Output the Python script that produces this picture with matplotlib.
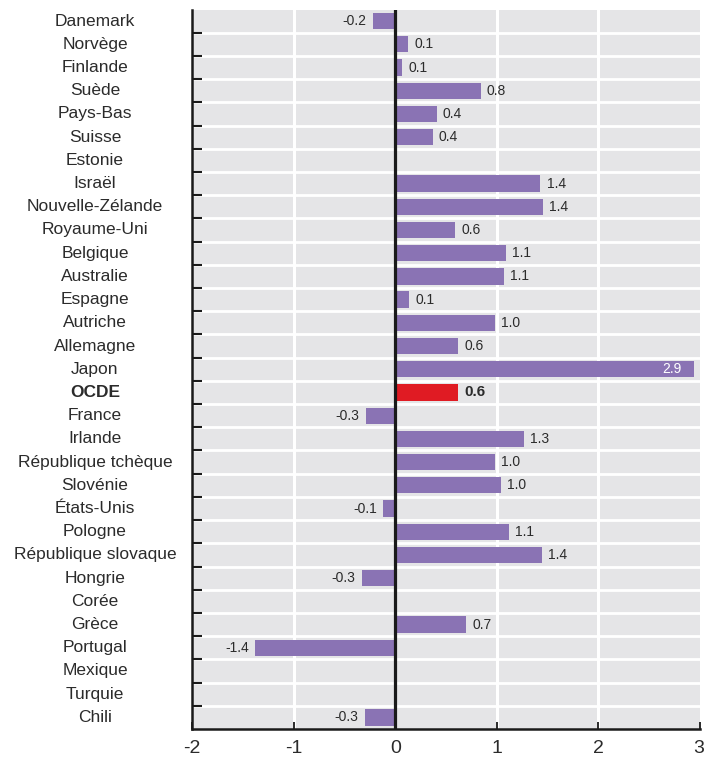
import numpy as np
import matplotlib
matplotlib.use("Agg")
import matplotlib.pyplot as plt
from matplotlib.transforms import blended_transform_factory, offset_copy

plt.rcParams['font.family'] = ['Liberation Sans', 'DejaVu Sans']

countries = [
    "Danemark", "Norvège", "Finlande", "Suède", "Pays-Bas", "Suisse", "Estonie",
    "Israël", "Nouvelle-Zélande", "Royaume-Uni", "Belgique", "Australie", "Espagne",
    "Autriche", "Allemagne", "Japon", "OCDE", "France", "Irlande",
    "République tchèque", "Slovénie", "États-Unis", "Pologne",
    "République slovaque", "Hongrie", "Corée", "Grèce", "Portugal", "Mexique",
    "Turquie", "Chili",
]
values = [
    -0.22, 0.13, 0.07, 0.84, 0.41, 0.37, np.nan,
    1.43, 1.45, 0.59, 1.09, 1.07, 0.14,
    0.98, 0.62, 2.94, 0.62, -0.29, 1.27,
    0.98, 1.04, -0.12, 1.12,
    1.44, -0.33, np.nan, 0.70, -1.38, np.nan,
    np.nan, -0.30,
]
highlight = "OCDE"

purple = "#8a73b4"
red = "#e01b23"
text_col = "#2b2b2b"

fig = plt.figure(figsize=(7.04, 7.63), dpi=100)
ax = fig.add_axes([192 / 704, 34 / 763, 508 / 704, (729 - 9.5) / 763])
ax.set_facecolor("#e5e5e7")

n = len(countries)
y = np.arange(n)
vals = np.array(values, dtype=float)
colors = [red if c == highlight else purple for c in countries]
plot_vals = np.nan_to_num(vals, nan=0.0)
ax.barh(y, plot_vals, height=0.7, color=colors, zorder=3)

ax.set_xlim(-2, 3)
ax.set_ylim(n - 0.5, -0.5)

# white row separators and vertical grid
for b in np.arange(0.5, n - 0.5, 1.0):
    ax.axhline(b, color="white", lw=2.0, zorder=1)
for gx in [-1, 1, 2]:
    ax.axvline(gx, color="white", lw=2.2, zorder=1)
ax.axvline(0, color="#1a1a1a", lw=2.3, zorder=4)

# value labels
for yi, v, c in zip(y, vals, countries):
    if np.isnan(v):
        continue
    lab = f"{v:.1f}"
    bold = (c == highlight)
    fw = "bold" if bold else "normal"
    fs = 11 if bold else 10
    if v >= 2.5:
        ax.text(v - 0.12, yi, lab, ha="right", va="center", color="white",
                fontsize=fs, fontweight=fw, zorder=5)
    elif v >= 0:
        ax.text(v + 0.06, yi, lab, ha="left", va="center", color=text_col,
                fontsize=fs, fontweight=fw, zorder=5)
    else:
        ax.text(v - 0.06, yi, lab, ha="right", va="center", color=text_col,
                fontsize=fs, fontweight=fw, zorder=5)

# y labels centred in the left margin
ax.set_yticks(y)
ax.set_yticklabels([])
trans = blended_transform_factory(fig.transFigure, ax.transData)
for yi, c in zip(y, countries):
    fig.text(95 / 704, yi, c, transform=trans, ha="center", va="center",
             fontsize=12.5, color=text_col,
             fontweight="bold" if c == highlight else "normal")
ax.tick_params(axis="y", which="major", length=0)
ax.set_yticks(np.arange(0.5, n - 0.5, 1.0), minor=True)
ax.tick_params(axis="y", which="minor", direction="in", length=7, width=1.5,
               color="#1a1a1a")

xticks = [-2, -1, 0, 1, 2, 3]
ax.set_xticks(xticks)
ax.set_xticklabels([str(t) for t in xticks])
ax.tick_params(axis="x", direction="in", length=5, width=1.3, color="#1a1a1a",
               labelsize=14, labelcolor=text_col, pad=8)
last = ax.get_xticklabels()[-1]
last.set_horizontalalignment("right")
last.set_transform(offset_copy(last.get_transform(), fig=fig, x=4, units="dots"))

for s in ["top", "right"]:
    ax.spines[s].set_visible(False)
ax.spines["left"].set_linewidth(1.8)
ax.spines["left"].set_color("#1a1a1a")
ax.spines["bottom"].set_linewidth(1.8)
ax.spines["bottom"].set_color("#1a1a1a")

fig.savefig("out.png", dpi=100)
